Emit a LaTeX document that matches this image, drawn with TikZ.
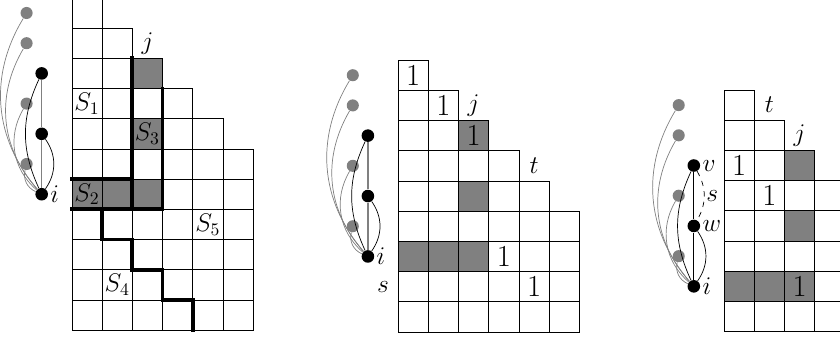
\documentclass[tikz,border=0pt]{standalone}
\usepackage{tikz}
\usetikzlibrary{positioning}
\tikzset{
    grid cell/.style={draw,thin},
    marked cell/.style={draw,thin,fill=gray},
    wall/.style={line width=2.2pt,line cap=rect},
    old vertex/.style={circle,fill=gray,inner sep=0pt,minimum size=.24cm},
    new vertex/.style={circle,fill=black,inner sep=0pt,minimum size=.25cm},
    old edge/.style={gray,thin},
    new edge/.style={black,thin},
    spine/.style={gray,line width=.9pt},
    entry/.style={font=\LARGE,inner sep=0pt},
    tag/.style={font=\Large,inner sep=1pt}
}

\begin{document}
\begin{tikzpicture}[x=0.6cm,y=0.6cm]
\clip (0,0) rectangle (27.81,-11.29);
% left: the regions S_1..S_5
\begin{scope}[shift={(2.38,0.07)}]
\foreach \r in {0,...,10} {
    \pgfmathtruncatemacro{\w}{min(\r,5)}
    \foreach \c in {0,...,\w}
        \draw[grid cell] (\c,-\r) rectangle ++(1,-1);
}
\foreach \r/\c in {2/2,4/2,6/0,6/1,6/2}
    \draw[marked cell] (\c,-\r) rectangle ++(1,-1);
\draw[wall] (2,-2) -- (2,-7);
\draw[wall] (3,-3) -- (3,-7);
\draw[wall] (0,-6) -- (2,-6);
\draw[wall] (0,-7) -- (3,-7);
\draw[wall] (1,-7) -- (1,-8) -- (2,-8) -- (2,-9) -- (3,-9) -- (3,-10) -- (4,-10) -- (4,-11);
\node[tag] (p1-j) at (2.5,-1.5) {$j$};
\node[tag] (p1-s1) at (.5,-3.5) {$S_1$};
\node[tag] (p1-s3) at (2.5,-4.5) {$S_3$};
\node[tag] (p1-s2) at (.5,-6.5) {$S_2$};
\node[tag] (p1-s5) at (4.5,-7.5) {$S_5$};
\node[tag] (p1-s4) at (1.5,-9.5) {$S_4$};
% graph
\foreach \r in {0,1,3,5}
    \node[old vertex] (p1-g\r) at ({-1.5},{-\r-0.5}) {};
\node[new vertex] (p1-v2) at (-1,-2.5) {};
\node[new vertex] (p1-v4) at (-1,-4.5) {};
\node[new vertex] (p1-i) at (-1,-6.5) {};
\foreach \r/\b in {0/36,1/36,3/40,5/40}
    \draw[old edge] (p1-g\r) to[bend right=\b] (p1-i);
\draw[spine] (p1-v2) -- (p1-v4) -- (p1-i);
\draw[new edge] (p1-v2) to[bend right=25] (p1-i);
\draw[new edge] (p1-v4) to[bend left=35] (p1-i);
\node[tag,right=0pt of p1-i] (p1-ti) {$i$};
\end{scope}

% middle: ones in the table
\begin{scope}[shift={(13.18,-1.99)}]
\foreach \r in {0,...,8} {
    \pgfmathtruncatemacro{\w}{min(\r,5)}
    \foreach \c in {0,...,\w}
        \draw[grid cell] (\c,-\r) rectangle ++(1,-1);
}
\foreach \r/\c in {2/2,4/2,6/0,6/1,6/2}
    \draw[marked cell] (\c,-\r) rectangle ++(1,-1);
\foreach \r/\c in {0/0,1/1,2/2,6/3,7/4}
    \node[entry] (p2-e\r) at ({\c+0.5},{-\r-0.5}) {1};
\node[tag] (p2-j) at (2.5,-1.5) {$j$};
\node[tag] (p2-t) at (4.5,-3.5) {$t$};
\node[tag] (p2-s) at (-.5,-7.5) {$s$};
% graph
\foreach \r in {0,1,3,5}
    \node[old vertex] (p2-g\r) at ({-1.5},{-\r-0.5}) {};
\node[new vertex] (p2-v2) at (-1,-2.5) {};
\node[new vertex] (p2-v4) at (-1,-4.5) {};
\node[new vertex] (p2-i) at (-1,-6.5) {};
\foreach \r/\b in {0/36,1/36,3/40,5/40}
    \draw[old edge] (p2-g\r) to[bend right=\b] (p2-i);
\draw[spine] (p2-v2) -- (p2-v4) -- (p2-i);
\draw[new edge] (p2-v2) to[bend right=25] (p2-i);
\draw[new edge] (p2-v4) to[bend left=35] (p2-i);
\node[tag,right=0pt of p2-i] (p2-ti) {$i$};
\end{scope}

% right: the path through v, w
\begin{scope}[shift={(23.97,-2.98)}]
\foreach \r in {0,...,7} {
    \pgfmathtruncatemacro{\w}{min(\r,5)}
    \foreach \c in {0,...,\w}
        \draw[grid cell] (\c,-\r) rectangle ++(1,-1);
}
\foreach \r/\c in {2/2,4/2,6/0,6/1,6/2}
    \draw[marked cell] (\c,-\r) rectangle ++(1,-1);
\foreach \r/\c in {2/0,3/1,6/2}
    \node[entry] (p3-e\r) at ({\c+0.5},{-\r-0.5}) {1};
\node[tag] (p3-t) at (1.5,-.5) {$t$};
\node[tag] (p3-j) at (2.5,-1.5) {$j$};
% graph
\foreach \r in {0,1,3,5}
    \node[old vertex] (p3-g\r) at ({-1.5},{-\r-0.5}) {};
\node[new vertex] (p3-v) at (-1,-2.5) {};
\node[new vertex] (p3-w) at (-1,-4.5) {};
\node[new vertex] (p3-i) at (-1,-6.5) {};
\foreach \r/\b in {0/36,1/36,3/40,5/40}
    \draw[old edge] (p3-g\r) to[bend right=\b] (p3-i);
\draw[new edge] (p3-v) -- (p3-w) -- (p3-i);
\draw[new edge] (p3-v) to[bend right=25] (p3-i);
\draw[new edge] (p3-w) to[bend left=35] (p3-i);
\draw[new edge,dashed] (p3-v) to[bend left=30] node[tag,right] (p3-ts) {$s$} (p3-w);
\node[tag,right=0pt of p3-v] (p3-tv) {$v$};
\node[tag,right=0pt of p3-w] (p3-tw) {$w$};
\node[tag,right=0pt of p3-i] (p3-ti) {$i$};
\end{scope}
\end{tikzpicture}
\end{document}
